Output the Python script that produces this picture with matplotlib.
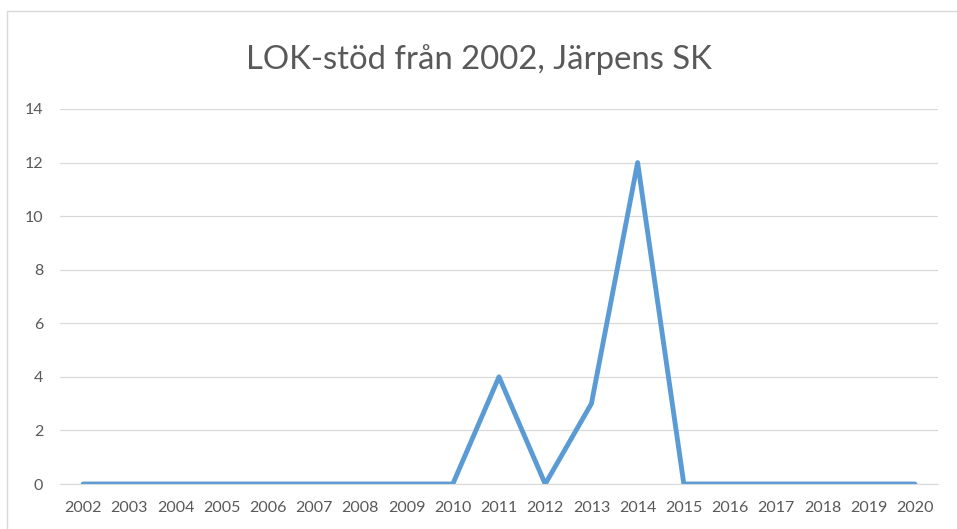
import matplotlib
matplotlib.use("Agg")
import matplotlib.pyplot as plt

years = [str(y) for y in range(2002, 2021)]
values = [0, 0, 0, 0, 0, 0, 0, 0, 0, 4, 0, 3, 12, 0, 0, 0, 0, 0, 0]
yticks = [0, 2, 4, 6, 8, 10, 12, 14]

plt.rcParams['font.family'] = ['Lato', 'DejaVu Sans']
fig = plt.figure(figsize=(9.57, 5.29), dpi=100)
ax = fig.add_axes([60 / 957, 1 - 484 / 529, 878 / 957, 375 / 529])
x = list(range(len(years)))
ax.plot(x, values, color="#5B9BD5", linewidth=3.5, solid_joinstyle="round", solid_capstyle="round")
ax.set_xlim(-0.5, len(years) - 0.5)
ax.set_ylim(0, 14)
ax.set_yticks(yticks)
ax.set_xticks(x)
ax.set_xticklabels(years)
ax.grid(axis="y", color="#D9D9D9", linewidth=0.9)
ax.set_axisbelow(True)
for s in ["top", "right", "left"]:
    ax.spines[s].set_visible(False)
ax.spines["bottom"].set_color("#D9D9D9")
ax.tick_params(axis="both", length=0, labelsize=11.5, colors="#595959")
ax.tick_params(axis="y", pad=12)
ax.tick_params(axis="x", pad=17.5)
for lab in ax.get_xticklabels():
    lab.set_va("center")
fig.text(0.5, 1 - 60 / 529, "LOK-stöd från 2002, Järpens SK", ha="center", va="center",
         fontsize=23.7, color="#595959")
fig.patches.append(plt.Rectangle((6.5 / 957, -0.05), 1.2, 1.05 - 10.5 / 529, transform=fig.transFigure,
                                 fill=False, edgecolor="#D9D9D9", linewidth=1.0))
fig.savefig("out.png", dpi=100)
